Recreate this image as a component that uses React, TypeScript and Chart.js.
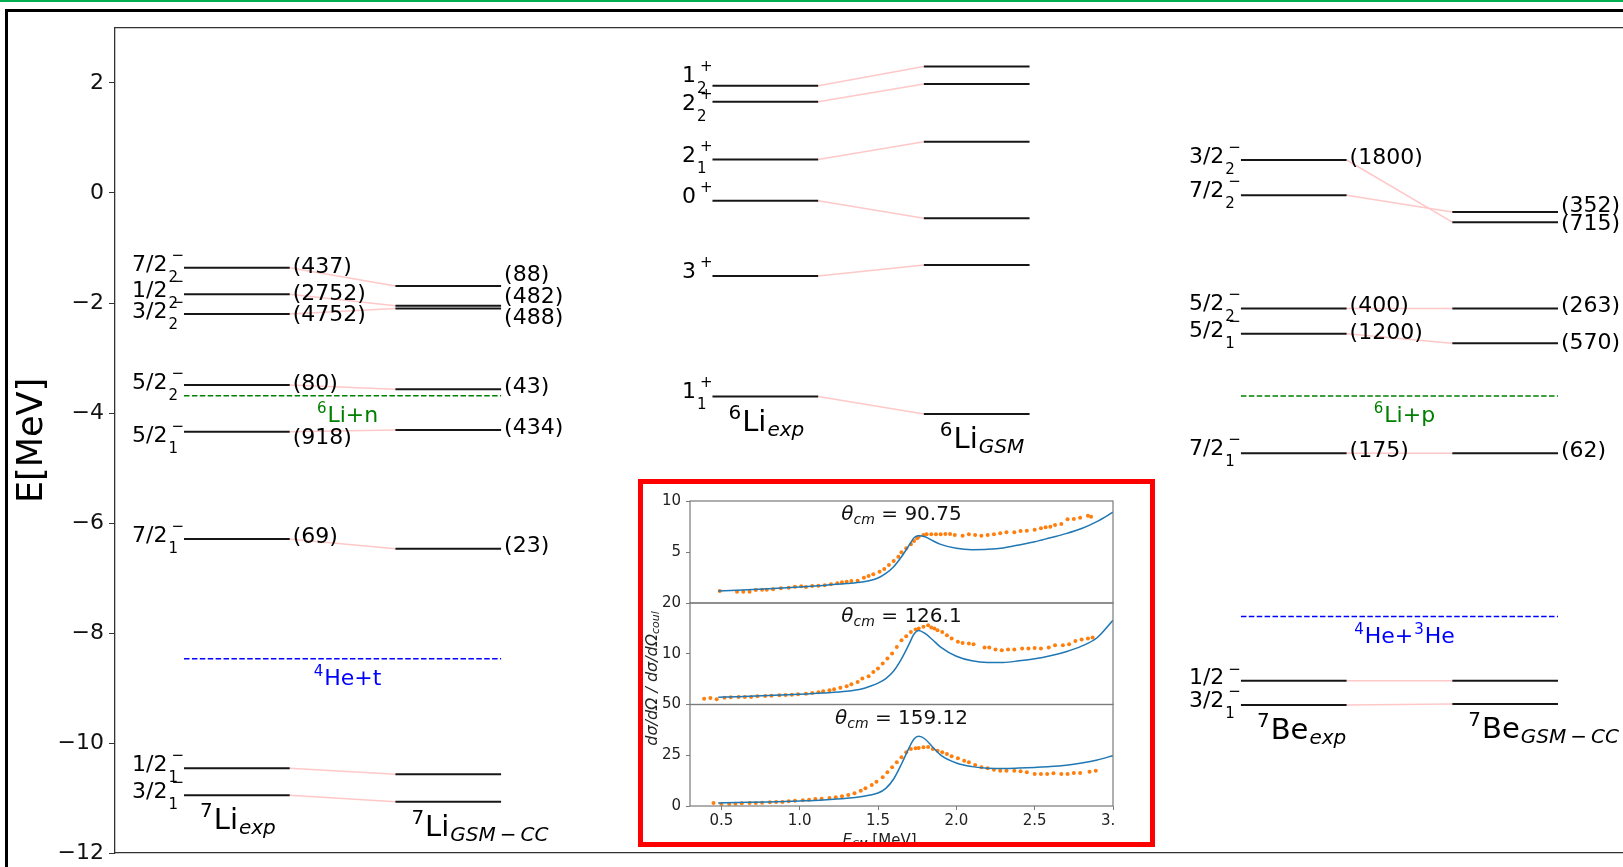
import React, { useEffect, useRef } from "react";
import { Chart, registerables } from "chart.js";
Chart.register(...registerables);

const FONT = "'DejaVu Sans', 'Noto Sans', sans-serif";

// ---------------- main level diagram ----------------
const Y_TICKS = [-12, -10, -8, -6, -4, -2, 0, 2];
const Y_MIN = -12;
const Y_MAX = 3;
const X_MIN = -0.653;
const X_MAX = 13.615;

// column spans (x units)
const COL_LI7_EXP = [0, 1];
const COL_LI7_GSM = [2, 3];
const COL_LI6_EXP = [5, 6];
const COL_LI6_GSM = [7, 8];
const COL_BE7_EXP = [10, 11];
const COL_BE7_GSM = [12, 13];

// 7Li
const LI7_STATES = ["7/2_2", "1/2_2", "3/2_2", "5/2_2", "5/2_1", "7/2_1", "1/2_1", "3/2_1"];
const LI7_EXP = [-1.36, -1.84, -2.2, -3.49, -4.34, -6.29, -10.46, -10.95];
const LI7_GSM = [-1.69, -2.05, -2.1, -3.57, -4.31, -6.47, -10.57, -11.07];
const LI7_EXP_WIDTH = [437, 2752, 4752, 80, 918, 69, null, null];
const LI7_GSM_WIDTH = [88, 482, 488, 43, 434, 23, null, null];
const LI7_SPIN_Y = [-1.31, -1.79, -2.16, -3.46, -4.42, -6.24, -10.41, -10.89];
const LI7_EXP_WIDTH_Y = [-1.35, -1.85, -2.22, -3.47, -4.46, -6.26, 0, 0];
const LI7_GSM_WIDTH_Y = [-1.5, -1.9, -2.27, -3.54, -4.28, -6.42, 0, 0];
const LI7_THRESH = [-3.685, -8.467];

// 6Li
const LI6_STATES = ["1_2", "2_2", "2_1", "0", "3", "1_1"];
const LI6_EXP = [1.95, 1.66, 0.61, -0.14, -1.51, -3.7];
const LI6_GSM = [2.3, 1.98, 0.93, -0.46, -1.31, -4.02];
const LI6_SPIN_Y = [2.13, 1.62, 0.67, -0.07, -1.44, -3.62];

// 7Be
const BE7_STATES = ["3/2_2", "7/2_2", "5/2_2", "5/2_1", "7/2_1", "1/2", "3/2_1"];
const BE7_EXP = [0.6, -0.04, -2.1, -2.56, -4.73, -8.87, -9.31];
const BE7_GSM = [-0.53, -0.345, -2.1, -2.73, -4.73, -8.87, -9.29];
const BE7_EXP_WIDTH = [1800, null, 400, 1200, 175, null, null];
const BE7_GSM_WIDTH = [715, 352, 263, 570, 62, null, null];
const BE7_SPIN_Y = [0.645, 0.036, -2.02, -2.51, -4.655, -8.83, -9.245];
const BE7_EXP_WIDTH_Y = [0.63, 0, -2.06, -2.555, -4.7, 0, 0];
const BE7_GSM_WIDTH_Y = [-0.57, -0.24, -2.06, -2.74, -4.69, 0, 0];
const BE7_THRESH = [-3.69, -7.7];

// ---------------- inset (cross sections) ----------------
const INSET_X_TICKS = [0.5, 1.0, 1.5, 2.0, 2.5, 3.0];
const INSET_TITLES = ["90.75", "126.1", "159.12"];
const INSET_Y_RANGES = [[0, 10], [0, 20], [0, 50]];
const INSET_Y_TICKS = [[5, 10], [10, 20], [0, 25, 50]];

const BLUE_E = [0.48, 0.6, 0.8, 1.0, 1.15, 1.3, 1.4, 1.45, 1.5, 1.55, 1.6, 1.65, 1.7, 1.73, 1.76, 1.8, 1.85, 1.9, 2.0, 2.1, 2.2, 2.3, 2.4, 2.5, 2.6, 2.7, 2.8, 2.9, 3.0];
const BLUE1_V = [1.18, 1.25, 1.4, 1.57, 1.72, 1.9, 2.05, 2.2, 2.45, 2.9, 3.56, 4.54, 5.69, 6.4, 6.6, 6.5, 6.1, 5.75, 5.36, 5.23, 5.26, 5.4, 5.69, 6.0, 6.4, 6.8, 7.3, 8.0, 8.9];
const BLUE2_V = [1.45, 1.55, 1.75, 2.0, 2.25, 2.6, 3.1, 3.6, 4.2, 5.1, 6.6, 9.0, 12.0, 13.9, 14.6, 14.0, 12.7, 11.3, 9.5, 8.6, 8.3, 8.3, 8.6, 9.0, 9.6, 10.4, 11.5, 13.2, 16.6];
const BLUE3_V = [1.5, 1.7, 2.0, 2.5, 3.0, 3.8, 4.7, 5.4, 6.4, 8.7, 13.3, 20.7, 28.9, 33.0, 34.3, 33.0, 28.9, 25.1, 21.2, 19.4, 18.6, 18.5, 18.7, 19.0, 19.4, 20.1, 21.2, 22.7, 24.8];

const ORANGE1_E = [0.49, 0.6, 0.64, 0.68, 0.72, 0.76, 0.79, 0.83, 0.88, 0.93, 0.97, 1.01, 1.04, 1.08, 1.12, 1.16, 1.2, 1.24, 1.27, 1.3, 1.33, 1.37, 1.41, 1.44, 1.47, 1.51, 1.54, 1.57, 1.6, 1.63, 1.65, 1.68, 1.71, 1.73, 1.75, 1.76, 1.79, 1.81, 1.84, 1.87, 1.9, 1.93, 1.96, 1.99, 2.04, 2.08, 2.12, 2.16, 2.2, 2.24, 2.28, 2.32, 2.37, 2.41, 2.45, 2.5, 2.54, 2.57, 2.6, 2.63, 2.67, 2.71, 2.75, 2.79, 2.84, 2.86];
const ORANGE1_V = [1.18, 1.11, 1.11, 1.11, 1.27, 1.31, 1.31, 1.34, 1.44, 1.5, 1.6, 1.63, 1.57, 1.67, 1.7, 1.73, 1.83, 1.93, 2.03, 2.09, 2.16, 2.19, 2.48, 2.65, 2.81, 3.07, 3.33, 3.73, 4.12, 4.54, 4.97, 5.36, 5.75, 6.08, 6.34, 6.5, 6.67, 6.73, 6.73, 6.73, 6.73, 6.76, 6.76, 6.67, 6.6, 6.73, 6.67, 6.6, 6.67, 6.73, 6.83, 6.93, 6.93, 7.06, 7.09, 7.19, 7.32, 7.42, 7.48, 7.65, 7.75, 8.2, 8.24, 8.37, 8.56, 8.46];
const ORANGE2_E = [0.39, 0.43, 0.47, 0.52, 0.56, 0.61, 0.65, 0.69, 0.73, 0.78, 0.82, 0.87, 0.91, 0.95, 0.99, 1.04, 1.08, 1.12, 1.15, 1.19, 1.22, 1.26, 1.3, 1.33, 1.37, 1.4, 1.44, 1.47, 1.5, 1.53, 1.56, 1.59, 1.62, 1.65, 1.68, 1.71, 1.74, 1.76, 1.79, 1.82, 1.84, 1.86, 1.88, 1.91, 1.94, 1.97, 2.01, 2.04, 2.08, 2.11, 2.18, 2.21, 2.25, 2.29, 2.33, 2.37, 2.42, 2.46, 2.5, 2.54, 2.59, 2.63, 2.68, 2.72, 2.76, 2.8, 2.84, 2.87];
const ORANGE2_V = [1.15, 1.28, 1.02, 1.35, 1.41, 1.48, 1.48, 1.48, 1.61, 1.68, 1.74, 1.81, 1.88, 1.94, 2.01, 2.14, 2.27, 2.4, 2.6, 2.8, 3.0, 3.32, 3.59, 3.98, 4.44, 5.1, 5.56, 6.41, 7.07, 8.06, 9.05, 10.03, 11.35, 12.66, 13.45, 14.31, 14.77, 14.97, 15.3, 15.63, 15.16, 14.97, 14.64, 14.31, 13.65, 12.99, 12.34, 12.14, 12.01, 11.88, 11.22, 11.22, 10.82, 10.69, 10.82, 10.82, 11.02, 11.02, 11.15, 11.02, 11.22, 11.68, 11.68, 11.88, 12.53, 12.8, 12.99, 13.19];
const ORANGE3_E = [0.45, 0.5, 0.55, 0.59, 0.63, 0.68, 0.72, 0.76, 0.81, 0.85, 0.89, 0.93, 0.97, 1.02, 1.06, 1.1, 1.14, 1.19, 1.23, 1.27, 1.31, 1.35, 1.39, 1.42, 1.46, 1.49, 1.53, 1.56, 1.59, 1.62, 1.65, 1.68, 1.71, 1.74, 1.76, 1.79, 1.82, 1.85, 1.88, 1.91, 1.94, 1.97, 2.01, 2.05, 2.08, 2.12, 2.16, 2.2, 2.24, 2.28, 2.32, 2.37, 2.41, 2.45, 2.5, 2.54, 2.58, 2.62, 2.67, 2.71, 2.75, 2.79, 2.85, 2.89];
const ORANGE3_V = [1.48, 0.99, 0.99, 1.15, 1.31, 1.48, 1.48, 1.64, 1.81, 1.97, 1.97, 2.3, 2.63, 2.79, 3.12, 3.45, 3.61, 3.94, 4.27, 4.76, 5.42, 6.24, 7.55, 8.7, 10.34, 11.99, 14.12, 16.58, 19.05, 21.51, 23.97, 26.44, 28.08, 28.41, 28.57, 28.9, 29.06, 28.08, 27.26, 26.44, 25.62, 24.47, 23.48, 22.33, 21.51, 20.2, 19.05, 18.56, 17.9, 17.41, 17.41, 17.41, 17.08, 16.58, 15.76, 15.76, 15.76, 16.09, 15.76, 15.76, 16.26, 16.26, 16.91, 17.41];

// ---------------- helpers ----------------
type Seg = { t: string; size: number; dy?: number; dx?: number; italic?: boolean };
const fnt = (size: number, italic = false) => `${italic ? "italic " : ""}${size}px ${FONT}`;

function drawSegs(ctx: CanvasRenderingContext2D, segs: Seg[], x: number, y: number, align: "left" | "center" | "right", color: string, baseline: CanvasTextBaseline = "alphabetic") {
  let w = 0;
  for (const s of segs) {
    ctx.font = fnt(s.size, s.italic);
    w += (s.dx || 0) + ctx.measureText(s.t).width;
  }
  let cx = align === "left" ? x : align === "center" ? x - w / 2 : x - w;
  ctx.fillStyle = color;
  ctx.textAlign = "left";
  ctx.textBaseline = baseline;
  for (const s of segs) {
    ctx.font = fnt(s.size, s.italic);
    cx += s.dx || 0;
    ctx.fillText(s.t, cx, y + (s.dy || 0));
    cx += ctx.measureText(s.t).width;
  }
}

function drawSpin(ctx: CanvasRenderingContext2D, state: string, parity: string, xRight: number, yc: number) {
  const [main, sub = ""] = state.split("_");
  ctx.fillStyle = "#000";
  ctx.textBaseline = "middle";
  ctx.font = fnt(15);
  const wSup = ctx.measureText(parity).width;
  const mainEnd = xRight - wSup - 4;
  ctx.font = fnt(22);
  ctx.textAlign = "right";
  ctx.fillText(main, mainEnd, yc);
  ctx.textAlign = "left";
  ctx.font = fnt(15);
  if (sub) ctx.fillText(sub, mainEnd + 1, yc + 13);
  ctx.fillText(parity, mainEnd + 4, yc - 9);
}

const nucLabel = (mass: string, el: string, sub: string): Seg[] => [
  { t: mass, size: 20, dy: -12 },
  { t: el, size: 29, dx: 1 },
  { t: sub, size: 20, italic: true, dy: 5, dx: 1 },
];

const GROUPS = [
  {
    states: LI7_STATES, parity: "\u2212", exp: LI7_EXP, th: LI7_GSM,
    expCol: COL_LI7_EXP, thCol: COL_LI7_GSM, spinY: LI7_SPIN_Y,
    expW: LI7_EXP_WIDTH, thW: LI7_GSM_WIDTH, expWY: LI7_EXP_WIDTH_Y, thWY: LI7_GSM_WIDTH_Y,
    expLabel: nucLabel("7", "Li", "exp"), thLabel: nucLabel("7", "Li", "GSM\u2009\u2212\u2009CC"),
  },
  {
    states: LI6_STATES, parity: "+", exp: LI6_EXP, th: LI6_GSM,
    expCol: COL_LI6_EXP, thCol: COL_LI6_GSM, spinY: LI6_SPIN_Y,
    expW: [], thW: [], expWY: [], thWY: [],
    expLabel: nucLabel("6", "Li", "exp"), thLabel: nucLabel("6", "Li", "GSM"),
  },
  {
    states: BE7_STATES, parity: "\u2212", exp: BE7_EXP, th: BE7_GSM,
    expCol: COL_BE7_EXP, thCol: COL_BE7_GSM, spinY: BE7_SPIN_Y,
    expW: BE7_EXP_WIDTH, thW: BE7_GSM_WIDTH, expWY: BE7_EXP_WIDTH_Y, thWY: BE7_GSM_WIDTH_Y,
    expLabel: nucLabel("7", "Be", "exp"), thLabel: nucLabel("7", "Be", "GSM\u2009\u2212\u2009CC"),
  },
];

const THRESHOLDS = [
  { e: LI7_THRESH[0], x0: COL_LI7_EXP[0], x1: COL_LI7_GSM[1], color: "#008000", segs: [{ t: "6", size: 15, dy: -9 }, { t: "Li+n", size: 22, dx: 1 }] },
  { e: LI7_THRESH[1], x0: COL_LI7_EXP[0], x1: COL_LI7_GSM[1], color: "#0000ff", segs: [{ t: "4", size: 15, dy: -9 }, { t: "He+t", size: 22, dx: 1 }] },
  { e: BE7_THRESH[0], x0: COL_BE7_EXP[0], x1: COL_BE7_GSM[1], color: "#008000", segs: [{ t: "6", size: 15, dy: -9 }, { t: "Li+p", size: 22, dx: 1 }] },
  { e: BE7_THRESH[1], x0: COL_BE7_EXP[0], x1: COL_BE7_GSM[1], color: "#0000ff", segs: [{ t: "4", size: 15, dy: -9 }, { t: "He+", size: 22, dx: 1 }, { t: "3", size: 15, dy: -9, dx: 1 }, { t: "He", size: 22, dx: 1 }] },
];

const mainTextPlugin = {
  id: "mainText",
  afterDatasetsDraw(chart: any) {
    const { ctx } = chart;
    const xs = chart.scales.x;
    const ys = chart.scales.y;
    const px = (v: number) => xs.getPixelForValue(v);
    const py = (v: number) => ys.getPixelForValue(v);
    ctx.save();
    for (const g of GROUPS) {
      g.states.forEach((s, i) => drawSpin(ctx, s, g.parity, px(g.expCol[0]), py(g.spinY[i])));
      ctx.font = fnt(22);
      ctx.fillStyle = "#000";
      ctx.textAlign = "left";
      ctx.textBaseline = "middle";
      g.expW.forEach((w: any, i: number) => { if (w != null) ctx.fillText(`(${w})`, px(g.expCol[1]) + 3, py(g.expWY[i])); });
      g.thW.forEach((w: any, i: number) => { if (w != null) ctx.fillText(`(${w})`, px(g.thCol[1]) + 3, py(g.thWY[i])); });
      drawSegs(ctx, g.expLabel, px(g.expCol[0]) + 16, py(Math.min(...g.exp)) + 34, "left", "#000");
      drawSegs(ctx, g.thLabel, px(g.thCol[0]) + 16, py(Math.min(...g.th)) + 34, "left", "#000");
    }
    for (const t of THRESHOLDS) {
      drawSegs(ctx, t.segs, (px(t.x0) + px(t.x1)) / 2 + 5, py(t.e) + 26, "center", t.color);
    }
    ctx.restore();
  },
};

const MAIN_CANVAS_H = 890;

function mainConfig(): any {
  const datasets: any[] = [];
  const seg = (x0: number, y0: number, x1: number, y1: number) => [{ x: x0, y: y0 }, { x: x1, y: y1 }];
  for (const g of GROUPS) {
    g.exp.forEach((e) => datasets.push({ data: seg(g.expCol[0], e, g.expCol[1], e), borderColor: "#161616", borderWidth: 2 }));
    g.th.forEach((e) => datasets.push({ data: seg(g.thCol[0], e, g.thCol[1], e), borderColor: "#161616", borderWidth: 2 }));
  }
  for (const t of THRESHOLDS) {
    datasets.push({ data: seg(t.x0, t.e, t.x1, t.e), borderColor: t.color, borderWidth: 1.5, borderDash: [5.5, 2.4] });
  }
  for (const g of GROUPS) {
    g.exp.forEach((e, i) => datasets.push({ data: seg(g.expCol[1], e, g.thCol[0], g.th[i]), borderColor: "#ffc8c8", borderWidth: 1.5 }));
  }
  datasets.forEach((d) => { d.pointRadius = 0; d.fill = false; d.tension = 0; });
  return {
    type: "line",
    data: { datasets },
    options: {
      animation: false,
      responsive: false,
      events: [],
      layout: { padding: { top: 28, bottom: MAIN_CANVAS_H - 853, left: 0, right: 0 } },
      plugins: { legend: { display: false }, tooltip: { enabled: false } },
      scales: {
        x: {
          type: "linear", position: "bottom", min: X_MIN, max: X_MAX,
          ticks: { display: false }, grid: { display: false },
          border: { display: true, color: "#333", width: 1.3 },
          afterFit: (s: any) => { s.height = 0; },
        },
        xTop: {
          type: "linear", position: "top", axis: "x", min: X_MIN, max: X_MAX,
          ticks: { display: false }, grid: { display: false },
          border: { display: true, color: "#333", width: 1.3 },
          afterFit: (s: any) => { s.height = 0; },
        },
        y: {
          type: "linear", position: "left", min: Y_MIN, max: Y_MAX,
          afterBuildTicks: (s: any) => { s.ticks = Y_TICKS.map((v) => ({ value: v })); },
          ticks: {
            font: { size: 22, family: FONT }, color: "#111", padding: 5,
            callback: (v: any) => (Number(v) < 0 ? "\u2212" + Math.abs(Number(v)) : String(v)),
          },
          grid: { display: true, drawOnChartArea: false, drawTicks: true, tickLength: 6, color: "#333" },
          border: { display: true, color: "#333", width: 1.3 },
          title: { display: true, text: "E[MeV]", font: { size: 35, family: FONT }, color: "#000", padding: { top: 12, bottom: 0 } },
          afterFit: (s: any) => { s.width = 115; },
        },
      },
    },
    plugins: [mainTextPlugin],
  };
}

// inset panel layout (px inside the clipped inset box)
const PANEL_TOPS = [17, 119, 220.5];
const PANEL_BOTTOMS = [119, 220.5, 322];
const INSET_H = 358;
const PANEL3_CANVAS_H = 372;

function panelConfig(i: number): any {
  const blue = [BLUE1_V, BLUE2_V, BLUE3_V][i];
  const oe = [ORANGE1_E, ORANGE2_E, ORANGE3_E][i];
  const ov = [ORANGE1_V, ORANGE2_V, ORANGE3_V][i];
  const last = i === 2;
  const canvasH = last ? PANEL3_CANVAS_H : INSET_H;
  const padBottom = last ? canvasH - PANEL_BOTTOMS[i] - 40 : canvasH - PANEL_BOTTOMS[i];
  const decor = {
    id: "decor" + i,
    afterDraw(chart: any) {
      const { ctx, chartArea: a } = chart;
      ctx.save();
      ctx.strokeStyle = "#7a7a7a";
      ctx.lineWidth = 1.2;
      ctx.strokeRect(a.left, a.top, a.right - a.left, a.bottom - a.top);
      drawSegs(ctx, [
        { t: "\u03b8", size: 20, italic: true },
        { t: "cm", size: 14, italic: true, dy: 4 },
        { t: " = " + INSET_TITLES[i], size: 20 },
      ], (a.left + a.right) / 2, a.top + 19, "center", "#111");
      if (i === 1) {
        ctx.translate(a.left - 37, a.bottom - 26);
        ctx.rotate(-Math.PI / 2);
        drawSegs(ctx, [
          { t: "d\u03c3/d\u03a9 / d\u03c3/d\u03a9", size: 16, italic: true },
          { t: "coul", size: 11, italic: true, dy: 3 },
        ], 0, 0, "center", "#222", "middle");
      }
      if (last) {
        drawSegs(ctx, [
          { t: "E", size: 15, italic: true },
          { t: "CM", size: 10, italic: true, dy: 3 },
          { t: " [MeV]", size: 15 },
        ], (a.left + a.right) / 2 - 22, a.bottom + 39, "center", "#222");
      }
      ctx.restore();
    },
  };
  const [ymin, ymax] = INSET_Y_RANGES[i];
  return {
    type: "line",
    data: {
      datasets: [
        {
          data: BLUE_E.map((e, k) => ({ x: e, y: blue[k] })),
          borderColor: "#1f77b4", borderWidth: 1.5, pointRadius: 0, fill: false,
          cubicInterpolationMode: "monotone",
        },
        {
          data: oe.map((e, k) => ({ x: e, y: ov[k] })),
          showLine: false, pointRadius: 2, pointBorderWidth: 0,
          pointBackgroundColor: "#ff7f0e", borderColor: "#ff7f0e",
        },
      ],
    },
    options: {
      animation: false,
      responsive: false,
      events: [],
      layout: { padding: { top: PANEL_TOPS[i], bottom: padBottom, left: 0, right: 30 } },
      plugins: { legend: { display: false }, tooltip: { enabled: false } },
      scales: {
        x: {
          type: "linear", min: 0.3, max: 3.0, display: last,
          afterBuildTicks: (s: any) => { s.ticks = INSET_X_TICKS.map((v) => ({ value: v })); },
          ticks: { autoSkip: false, maxRotation: 0, font: { size: 15, family: FONT }, color: "#222", padding: 2, callback: (v: any) => Number(v).toFixed(1) },
          grid: { display: true, drawOnChartArea: false, drawTicks: true, tickLength: 4, color: "#7a7a7a" },
          border: { display: false },
          afterFit: (s: any) => { s.height = last ? 40 : 0; },
        },
        y: {
          type: "linear", min: ymin, max: ymax,
          afterBuildTicks: (s: any) => { s.ticks = INSET_Y_TICKS[i].map((v) => ({ value: v })); },
          ticks: { font: { size: 15, family: FONT }, color: "#222", padding: 5, callback: (v: any) => String(v) },
          grid: { display: true, drawOnChartArea: false, drawTicks: true, tickLength: 4, color: "#7a7a7a" },
          border: { display: false },
          afterFit: (s: any) => { s.width = 47; },
        },
      },
    },
    plugins: [decor],
  };
}

export default function App() {
  const mainRef = useRef<HTMLCanvasElement>(null);
  const p1 = useRef<HTMLCanvasElement>(null);
  const p2 = useRef<HTMLCanvasElement>(null);
  const p3 = useRef<HTMLCanvasElement>(null);

  useEffect(() => {
    Chart.defaults.font.family = FONT;
    const charts: Chart[] = [];
    if (mainRef.current) charts.push(new Chart(mainRef.current, mainConfig()));
    [p1, p2, p3].forEach((r, i) => {
      if (r.current) charts.push(new Chart(r.current, panelConfig(i)));
    });
    return () => charts.forEach((c) => c.destroy());
  }, []);

  return (
    <div style={{ position: "absolute", left: 0, top: 0, width: 1623, height: 867, background: "#fff", overflow: "hidden" }}>
      <div style={{ position: "absolute", left: 0, top: 0, width: 1623, height: 2, background: "#00b050" }} />
      <div style={{ position: "absolute", left: 5, top: 9, width: 1618, height: 3, background: "#000" }} />
      <div style={{ position: "absolute", left: 5, top: 9, width: 3, height: 858, background: "#000" }} />
      <canvas ref={mainRef} width={1623} height={MAIN_CANVAS_H} style={{ position: "absolute", left: 0, top: 0 }} />
      <div style={{ position: "absolute", left: 638, top: 479, width: 517, height: 368, border: "5px solid #ff0000", boxSizing: "border-box", background: "#fff" }}>
        <div style={{ position: "absolute", left: 0, top: 0, width: 471, height: INSET_H, overflow: "hidden" }}>
          <canvas ref={p1} width={500} height={INSET_H} style={{ position: "absolute", left: 0, top: 0 }} />
          <canvas ref={p2} width={500} height={INSET_H} style={{ position: "absolute", left: 0, top: 0 }} />
          <canvas ref={p3} width={500} height={PANEL3_CANVAS_H} style={{ position: "absolute", left: 0, top: 0 }} />
        </div>
      </div>
    </div>
  );
}
